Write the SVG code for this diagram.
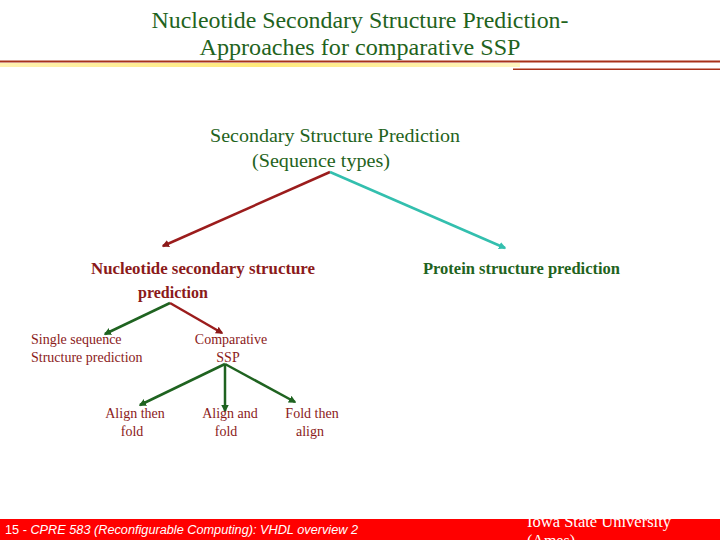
<svg xmlns="http://www.w3.org/2000/svg" width="720" height="540" viewBox="0 0 720 540">
<style>
.title{font-family:"Liberation Serif",serif;font-size:23px;fill:#1f6320}
.g{fill:#1f6320}
.r{fill:#8b1a1a}
.serif{font-family:"Liberation Serif",serif}
.lbl{font-family:"Liberation Serif",serif;font-size:14px;fill:#8b1a1a}
.conn{fill:none;stroke-width:2.5}
</style>
<defs>
<marker id="ar" viewBox="0 0 10 10" refX="8" refY="5" markerWidth="4" markerHeight="4" orient="auto" markerUnits="strokeWidth"><path d="M0,0 L10,5 L0,10 z" fill="context-stroke"/></marker>
<marker id="arR" viewBox="0 0 10 10" refX="8" refY="5" markerWidth="3" markerHeight="3" orient="auto"><path d="M0,0 L10,5 L0,10 z" fill="#8b1a1a"/></marker>
<marker id="arG" viewBox="0 0 10 10" refX="8" refY="5" markerWidth="3" markerHeight="3" orient="auto"><path d="M0,0 L10,5 L0,10 z" fill="#1f6320"/></marker>
<marker id="arC" viewBox="0 0 10 10" refX="8" refY="5" markerWidth="3" markerHeight="3" orient="auto"><path d="M0,0 L10,5 L0,10 z" fill="#33bfae"/></marker>
<linearGradient id="yel" x1="0" x2="1" y1="0" y2="0">
<stop offset="0" stop-color="#fff2b0"/><stop offset="0.5" stop-color="#ffe97a"/><stop offset="1" stop-color="#fff5c0"/>
</linearGradient>
</defs>
<rect width="720" height="540" fill="#ffffff"/>
<g id="header">
<text class="title" x="360" y="28" text-anchor="middle" textLength="417" lengthAdjust="spacingAndGlyphs">Nucleotide Secondary Structure Prediction-</text>
<text class="title" x="360" y="55" text-anchor="middle" textLength="321" lengthAdjust="spacingAndGlyphs">Approaches for comparative SSP</text>
<rect x="0" y="60.5" width="720" height="2" fill="#a8321a"/>
<rect x="0" y="63" width="520" height="4" fill="url(#yel)"/>
<rect x="513" y="68.5" width="207" height="1.5" fill="#a8321a"/>
</g>
<g id="connectors">
<line class="conn" x1="330" y1="172" x2="163" y2="246" stroke="#9b1c1c" marker-end="url(#arR)"/>
<line class="conn" x1="330" y1="172" x2="505" y2="248" stroke="#33bfae" marker-end="url(#arC)"/>
<line class="conn" x1="170" y1="303" x2="105" y2="334" stroke="#1f6320" marker-end="url(#arG)"/>
<line class="conn" x1="170" y1="303" x2="222" y2="333" stroke="#9b1c1c" marker-end="url(#arR)"/>
<line class="conn" x1="225" y1="364" x2="140" y2="405" stroke="#1f6320" marker-end="url(#arG)"/>
<line class="conn" x1="225" y1="364" x2="225" y2="411" stroke="#1f6320" marker-end="url(#arG)"/>
<line class="conn" x1="225" y1="364" x2="295" y2="402" stroke="#1f6320" marker-end="url(#arG)"/>
</g>
<g id="root">
<text class="serif g" font-size="18" x="210" y="142" textLength="250" lengthAdjust="spacingAndGlyphs">Secondary Structure Prediction</text>
<text class="serif g" font-size="18" x="252" y="167" textLength="138" lengthAdjust="spacingAndGlyphs">(Sequence types)</text>
</g>
<g id="nucleotide">
<text class="serif r" font-size="16" font-weight="bold" x="91" y="274" textLength="224" lengthAdjust="spacingAndGlyphs">Nucleotide secondary structure</text>
<text class="serif r" font-size="16" font-weight="bold" x="173" y="298" text-anchor="middle">prediction</text>
</g>
<g id="protein">
<text class="serif g" font-size="16" font-weight="bold" x="423" y="274" textLength="197" lengthAdjust="spacingAndGlyphs">Protein structure prediction</text>
</g>
<g id="single">
<text class="lbl" x="31" y="344">Single sequence</text>
<text class="lbl" x="31" y="362">Structure prediction</text>
</g>
<g id="comparative">
<text class="lbl" x="231" y="344" text-anchor="middle">Comparative</text>
<text class="lbl" x="228" y="362" text-anchor="middle">SSP</text>
</g>
<g id="align-then-fold">
<text class="lbl" x="135" y="418" text-anchor="middle">Align then</text>
<text class="lbl" x="132" y="436" text-anchor="middle">fold</text>
</g>
<g id="align-and-fold">
<text class="lbl" x="230" y="418" text-anchor="middle">Align and</text>
<text class="lbl" x="226" y="436" text-anchor="middle">fold</text>
</g>
<g id="fold-then-align">
<text class="lbl" x="312" y="418" text-anchor="middle">Fold then</text>
<text class="lbl" x="310" y="436" text-anchor="middle">align</text>
</g>
<g id="footer">
<rect x="0" y="519" width="720" height="21" fill="#ff0000"/>
<text x="5" y="534" font-family="Liberation Sans,sans-serif" font-size="12" fill="#ffffff" textLength="353" lengthAdjust="spacingAndGlyphs">15 - <tspan font-style="italic">CPRE 583 (Reconfigurable Computing):  VHDL overview 2</tspan></text>
<text x="527" y="527" font-family="Liberation Serif,serif" font-size="16" fill="#ffffff" textLength="144" lengthAdjust="spacingAndGlyphs">Iowa State University</text>
<text x="527" y="546" font-family="Liberation Serif,serif" font-size="16" fill="#ffffff">(Ames)</text>
</g>
</svg>
